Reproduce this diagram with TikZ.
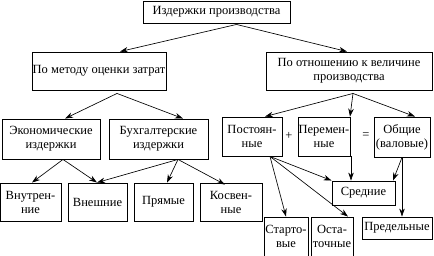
\documentclass[tikz,border=0pt]{standalone}
\usepackage{fontspec}
\setmainfont{Liberation Serif}
\newfontfamily\tnrfont{Liberation Serif}
\usetikzlibrary{arrows.meta}
\begin{document}
\begin{tikzpicture}[x=1pt,y=-1pt,
  bx/.style={draw, line width=0.9pt, inner sep=0pt, align=center,
    font=\tnrfont\fontsize{12.5}{14}\selectfont},
  ar/.style={line width=0.65pt, -{Stealth[length=8pt,width=5.5pt]}},
  sign/.style={inner sep=0pt, font=\tnrfont\fontsize{12.5}{14}\selectfont}]
\useasboundingbox (0,0) rectangle (434,256);
% boxes: center x, center y, width, height
\newcommand{\bxnode}[6]{\node[bx, minimum width=#4pt, minimum height=#5pt] (#1) at (#2,#3) {#6};}
\bxnode{top}{216.5}{12}{147}{22}{Издержки производства}
\bxnode{metod}{99}{71}{134}{38}{По методу оценки затрат}
\bxnode{otn}{349}{71}{166}{38}{По отношению к величине\\производства}
\bxnode{econ}{51}{139}{98}{40}{Экономические\\издержки}
\bxnode{buh}{158.5}{139}{99}{40}{Бухгалтерские\\издержки}
\bxnode{vnutr}{30.5}{202}{61}{38}{Внутрен-\\ние}
\bxnode{vnesh}{97.5}{202}{59}{38}{Внешние}
\bxnode{pryam}{163.5}{202}{59}{38}{Прямые}
\bxnode{kosv}{231}{202}{62}{38}{Косвен-\\ные}
\bxnode{post}{252}{136.5}{60}{39}{Постоян-\\ные}
\bxnode{perem}{324}{136.5}{52}{39}{Перемен-\\ные}
\bxnode{obsch}{402}{137}{56}{40}{Общие\\(валовые)}
\bxnode{sred}{363.5}{193}{63}{24}{Средние}
\bxnode{start}{286}{236.5}{44}{39}{Старто-\\вые}
\bxnode{ostat}{332}{236.5}{42}{39}{Оста-\\точные}
\bxnode{pred}{397}{228}{70}{22}{Предельные}
\node[sign] (plus) at (289,136) {+};
\node[sign] (eq) at (366,136) {=};
% connectors
\draw[ar] ([xshift=20pt,yshift=-1pt]top.south) -- ([xshift=21pt]metod.north);
\draw[ar] ([xshift=20pt,yshift=-1pt]top.south) -- ([xshift=-2pt]otn.north);
\draw[ar] ([xshift=18pt,yshift=-3pt]metod.south) -- ([xshift=14pt]econ.north);
\draw[ar] ([xshift=18pt,yshift=-3pt]metod.south) -- ([xshift=24.5pt]buh.north);
\draw[ar] ([xshift=12pt]econ.south) -- ([xshift=1.5pt]vnutr.north);
\draw[ar] ([xshift=12pt]econ.south) -- ([xshift=-0.5pt]vnesh.north);
\draw[ar] ([xshift=19.5pt]buh.south) -- ([xshift=-0.5pt]vnesh.north);
\draw[ar] ([xshift=19.5pt]buh.south) -- ([xshift=3.5pt]pryam.north);
\draw[ar] ([xshift=19.5pt]buh.south) -- ([xshift=-6pt,yshift=-2pt]kosv.north);
\draw[ar] ([xshift=4pt,yshift=-3pt]otn.south) -- ([xshift=13pt]post.north);
\draw[ar] ([xshift=4pt,yshift=-3pt]otn.south) -- ([xshift=26pt]perem.north);
\draw[ar] ([xshift=4pt,yshift=-3pt]otn.south) -- ([xshift=13pt]obsch.north);
\draw[ar] ([xshift=18pt]post.south) -- (sred.north west);
\draw[ar] ([xshift=18pt]post.south) -- (start.north);
\draw[ar] ([xshift=18pt]post.south) -- ([xshift=16pt]ostat.north);
\draw[ar] ([xshift=27pt]perem.south) -- ([xshift=-12.5pt]sred.north);
\draw[ar] (obsch.south) -- ([xshift=29.5pt]sred.north);
\draw[ar] (obsch.south) -- ([xshift=5pt]pred.north);
\end{tikzpicture}
\end{document}
